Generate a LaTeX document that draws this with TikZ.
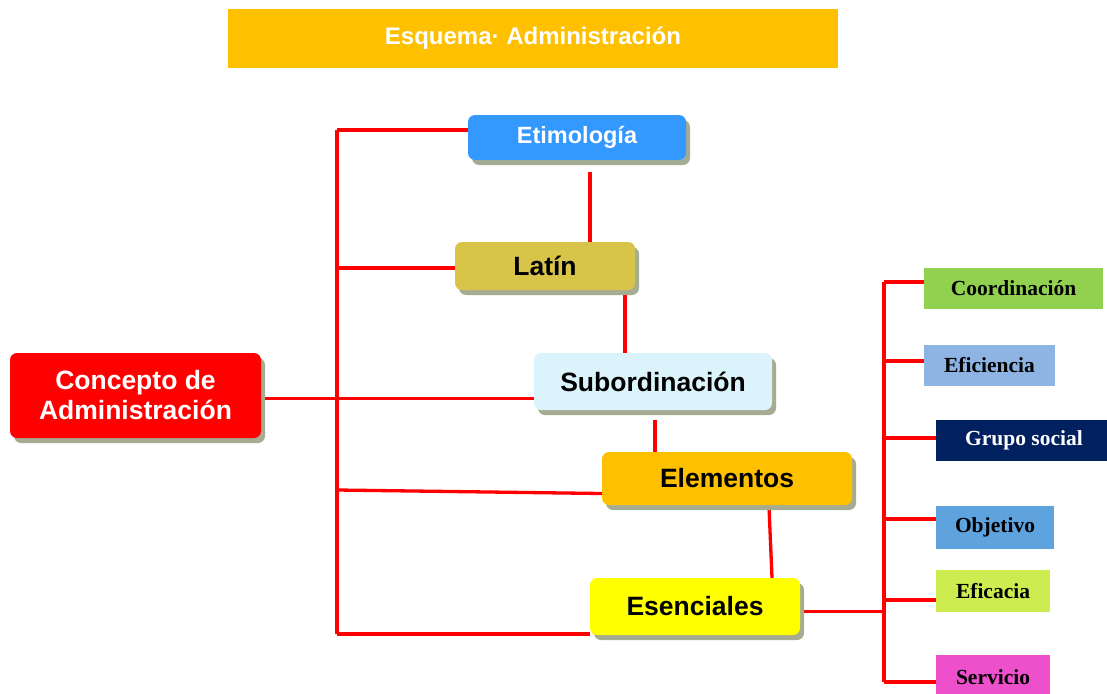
\documentclass[tikz,border=0pt]{standalone}
\usepackage{fontspec}
\setmainfont{Liberation Sans}
\newfontfamily\serifbox{Liberation Serif}
\usetikzlibrary{shadows,backgrounds}
\definecolor{shadowc}{HTML}{A6AC92}
\definecolor{titlec}{HTML}{FFC000}
\definecolor{etimc}{HTML}{3399FF}
\definecolor{latinc}{HTML}{D9C44A}
\definecolor{subc}{HTML}{DBF3FB}
\definecolor{elemc}{HTML}{FFC000}
\definecolor{esenc}{HTML}{FFFF00}
\definecolor{concc}{HTML}{FF0000}
\definecolor{linec}{HTML}{FF0000}
\definecolor{coordc}{HTML}{92D050}
\definecolor{eficc}{HTML}{8DB4E2}
\definecolor{grupoc}{HTML}{002060}
\definecolor{objc}{HTML}{5FA3DE}
\definecolor{eficac}{HTML}{CCEC50}
\definecolor{servc}{HTML}{EE50CC}
\tikzset{
  mainbox/.style={rounded corners=7pt, inner sep=0pt, align=center,
    drop shadow={shadow xshift=4pt, shadow yshift=-5pt, fill=shadowc, opacity=1},
    font=\fontsize{26.5}{30}\selectfont\bfseries},
  sidebox/.style={inner sep=0pt, align=center, minimum height=41pt,
    font=\serifbox\fontsize{21.5}{24}\selectfont\bfseries},
  link/.style={draw=linec, line width=3.3pt}
}
\begin{document}
\begin{tikzpicture}[x=1pt,y=-1pt]
\useasboundingbox (0,0) rectangle (1107,693);
\clip (0,0) rectangle (1107,693);
% title
\node[fill=titlec, minimum width=610pt, minimum height=59pt, inner sep=0pt,
  text=white, font=\fontsize{24}{28}\selectfont\bfseries] (title) at (533,38.5) {Esquema·\ Administración};
% main boxes
\node[mainbox, fill=etimc, text=white, minimum width=218pt, minimum height=45pt,
  font=\fontsize{23.5}{28}\selectfont\bfseries] (etim) at (577,137.5) {\raisebox{-3pt}{Etimología}};
\node[mainbox, fill=latinc, minimum width=180pt, minimum height=48pt] (latin) at (545,266) {\raisebox{-2pt}{Latín}};
\node[mainbox, fill=subc, minimum width=238pt, minimum height=57pt] (sub) at (653,381.5) {Subordinación};
\node[mainbox, fill=elemc, minimum width=250pt, minimum height=53pt] (elem) at (727,478.5) {Elementos};
\node[mainbox, fill=esenc, minimum width=210pt, minimum height=57pt] (esen) at (695,606.5) {Esenciales};
\node[mainbox, fill=concc, text=white, minimum width=251pt, minimum height=85pt] (conc) at (135.5,395.5) {Concepto de\\Administración};
% side boxes
\node[sidebox, fill=coordc, minimum width=179pt] (coord) at (1013.5,288.5) {Coordinación};
\node[sidebox, fill=eficc, minimum width=131pt] (efic) at (989.5,365.5) {Eficiencia};
\node[sidebox, fill=grupoc, text=white, minimum width=176pt] (grupo) at (1024,440.5) {Grupo social};
\node[sidebox, fill=objc, minimum width=118pt, minimum height=43pt] (obj) at (995,527.5) {Objetivo};
\node[sidebox, fill=eficac, minimum width=114pt, minimum height=42pt] (eficaz) at (993,591) {Eficacia};
\node[sidebox, fill=servc, minimum width=114pt, minimum height=44pt] (serv) at (993,677) {Servicio};
% connectors
\coordinate (tTop) at (337,130);
\coordinate (tE) at (337,490);
\coordinate (tBot) at (337,634);
\coordinate (rTop) at (884,282);
\coordinate (rBot) at (884,682);
\begin{scope}[on background layer]
\draw[link] (tTop) -- (tBot);
\draw[link] (tTop) -- (etim.west |- tTop);
\draw[link] ([yshift=-2pt]latin.west -| tTop) -- ([yshift=-2pt]latin.west);
\draw[link] ([yshift=-3pt]conc.east) -- ([yshift=-3pt]conc.east -| sub.west);
\draw[link] (tE) -- ([yshift=-15pt]elem.west);
\draw[link] (tBot) -- (esen.west |- tBot);
\draw[link] ([xshift=13pt,yshift=-12pt]etim.south) -- ([xshift=13pt]etim.south |- latin.north);
\draw[link] ([xshift=80pt]latin.south) -- ([xshift=80pt]latin.south |- sub.north);
\draw[link] ([xshift=2pt,yshift=-10pt]sub.south) -- ([xshift=2pt]sub.south |- elem.north);
\draw[link] ([xshift=42pt,yshift=-2pt]elem.south) -- ([xshift=77pt]esen.north);
\draw[link] ([yshift=-5pt]esen.east) -- ([yshift=-5pt]esen.east -| rTop);
\draw[link] (rTop) -- (rBot);
\draw[link] (rTop) -- (coord.west |- rTop);
\draw[link] ([yshift=4.5pt]efic.west -| rTop) -- ([yshift=4.5pt]efic.west);
\draw[link] ([yshift=2.5pt]grupo.west -| rTop) -- ([yshift=2.5pt]grupo.west);
\draw[link] ([yshift=8.5pt]obj.west -| rTop) -- ([yshift=8.5pt]obj.west);
\draw[link] ([yshift=-9pt]eficaz.west -| rTop) -- ([yshift=-9pt]eficaz.west);
\draw[link] (rBot) -- (serv.west |- rBot);
\end{scope}
\end{tikzpicture}
\end{document}
